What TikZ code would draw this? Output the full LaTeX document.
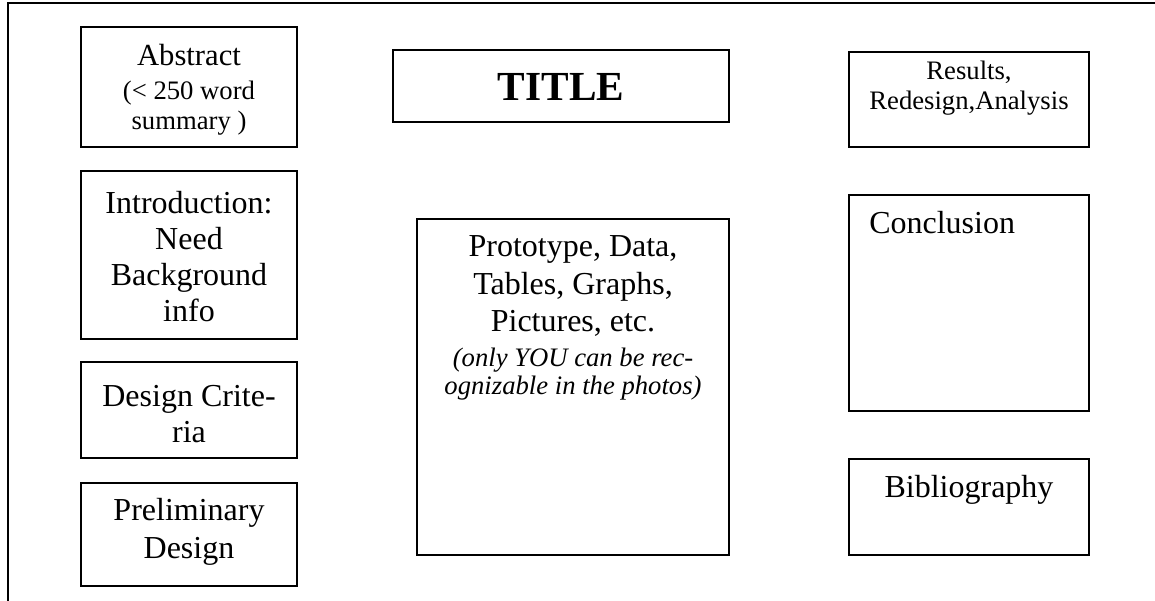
\documentclass[tikz,border=0pt]{standalone}
\usepackage{fontspec}
\setmainfont{Liberation Serif}
\usetikzlibrary{fit}
\begin{document}
\begin{tikzpicture}[x=0.75pt,y=-0.75pt,
  box/.style={draw=black,line width=1.5pt,inner sep=0pt,fit={#1}},
  txt/.style={align=center,inner sep=0pt,font=\fontsize{24}{27}\selectfont},
  frame/.style={draw=black,line width=1.6pt}]
\useasboundingbox (0,0) rectangle (1155,600);
% outer frame (left and top edges visible)
\coordinate (fbl) at (8,602);
\coordinate (ftl) at (8,3);
\coordinate (ftr) at (1157,3);
\draw[frame] (fbl) -- (ftl) -- (ftr);
% boxes
\node[box={(81,27) (297,147)}] (abstractbox) {};
\node[box={(81,171) (297,339)}] (introbox) {};
\node[box={(81,362) (297,458)}] (designbox) {};
\node[box={(81,483) (297,586)}] (prelimbox) {};
\node[box={(393,50) (729,122)}] (titlebox) {};
\node[box={(417,219) (729,555)}] (protobox) {};
\node[box={(849,52) (1089,147)}] (resultsbox) {};
\node[box={(849,195) (1089,411)}] (conclbox) {};
\node[box={(849,459) (1089,555)}] (biblbox) {};
% texts
\node[txt,font=\fontsize{20}{23}\selectfont] (abstract) at (189,90)
  {{\fontsize{23}{25}\selectfont Abstract}\\[2pt] (< 250 word\\ summary )};
\node[txt] (intro) at (189,257) {Introduction:\\Need\\Background\\info};
\node[txt] (design) at (189,414) {Design Crite-\\ria};
\node[txt] (prelim) at (189,532) {Preliminary\\[2pt]Design};
\node[txt,font=\bfseries\fontsize{31}{34}\selectfont] (title) at (561,87) {TITLE};
\node[txt,font=\fontsize{24}{28}\selectfont] (proto) at (573,318)
  {Prototype, Data,\\ Tables, Graphs,\\ Pictures, etc.\\[-2pt]
   {\itshape\fontsize{20}{21}\selectfont (only YOU can be rec-}\\[-7pt]
   {\itshape\fontsize{20}{21}\selectfont ognizable in the photos)}};
\node[txt,font=\fontsize{20}{22.5}\selectfont] (results) at (969,88) {Results,\\Redesign,Analysis};
\node[txt,anchor=west] (concl) at (869,223) {Conclusion};
\node[txt] (bibl) at (969,490) {Bibliography};
\end{tikzpicture}
\end{document}
